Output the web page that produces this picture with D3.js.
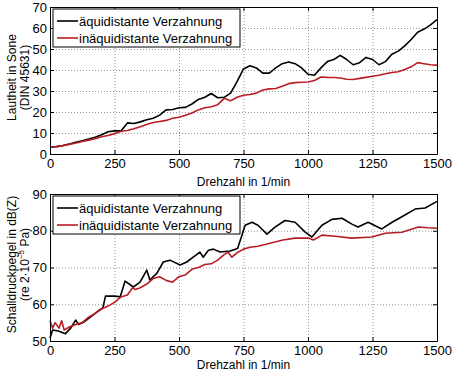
<!DOCTYPE html>
<html>
<head>
<meta charset="utf-8">
<script src="https://cdn.jsdelivr.net/npm/d3@7"></script>
<style>
  body { margin: 0; background: #fff; }
  svg { display: block; font-family: 'Liberation Sans', Arial, sans-serif; }
  .grid line { stroke: #999; stroke-dasharray: 1,2; }
  .grid path { display: none; }
</style>
</head>
<body>
<script>
// ---- data ----
var rpm = d3.range(0, 1501, 25);

var loudEqui = [3.2, 3.5, 4.0, 4.8, 5.6, 6.3, 7.1, 8.0, 9.2, 10.6, 11.0, 11.0, 14.8, 14.5, 15.3, 16.3,
    17.0, 18.5, 21.0, 21.2, 22.0, 22.2, 23.8, 26.0, 27.0, 28.8, 26.8, 27.0, 29.0, 34.5, 40.5,
    42.0, 41.0, 38.5, 38.5, 41.0, 43.0, 43.8, 43.0, 41.0, 38.0, 37.5, 41.0, 44.0, 45.0, 47.0,
    45.0, 42.5, 43.5, 46.0, 45.0, 42.5, 44.0, 47.5, 49.0, 51.5, 54.5, 58.0, 59.5, 61.5, 64.0];
var loudInequi = [3.3, 3.5, 4.0, 4.6, 5.2, 6.0, 6.6, 7.3, 8.2, 8.8, 9.7, 10.8, 11.2, 12.0, 13.0, 14.0,
    15.0, 15.5, 16.0, 17.0, 17.5, 18.5, 19.5, 21.0, 22.0, 22.5, 23.5, 26.5, 25.3, 27.0, 28.0,
    28.3, 29.0, 30.5, 31.0, 31.2, 32.3, 33.5, 34.0, 34.2, 34.3, 35.0, 36.7, 36.5, 36.4, 36.2,
    35.6, 35.5, 36.0, 36.5, 37.0, 37.5, 38.2, 38.8, 39.2, 40.2, 41.5, 43.5, 43.0, 42.5, 42.3];

var splEquiRpm = [0, 10, 32, 60, 80, 100, 110, 130, 160, 195, 205, 215, 252, 272, 291, 323, 349, 375,
    387, 414, 439, 465, 504, 530, 555, 581, 594, 614, 633, 659, 698, 727, 744, 756, 783, 806,
    841, 872, 911, 950, 988, 1015, 1054, 1093, 1132, 1170, 1194, 1233, 1286, 1326, 1364,
    1415, 1454, 1500];
var splEqui = [50.8, 53.0, 52.7, 52.0, 53.5, 55.7, 54.5, 55.1, 56.7, 58.6, 59.0, 62.2, 62.2, 62.0,
    66.3, 64.7, 66.0, 69.3, 66.6, 68.4, 71.5, 72.0, 70.7, 71.5, 72.8, 74.2, 72.8, 74.7, 75.0,
    74.2, 74.5, 75.2, 78.8, 81.5, 82.3, 81.5, 79.1, 81.0, 82.8, 82.3, 79.7, 78.3, 81.5, 83.1,
    83.4, 81.8, 81.0, 82.3, 80.5, 82.3, 83.8, 85.9, 86.2, 88.0];

var splInequiRpm = [0, 10, 20, 35, 45, 55, 75, 100, 125, 150, 175, 200, 225, 250, 275, 300, 320, 330,
    350, 375, 400, 425, 450, 475, 500, 525, 550, 575, 600, 625, 650, 675, 690, 705, 725, 750,
    775, 806, 853, 903, 950, 1002, 1021, 1054, 1106, 1170, 1247, 1300, 1364, 1428, 1465, 1500];
var splInequi = [55.5, 53.5, 55.0, 53.5, 55.5, 53.0, 53.8, 54.5, 55.0, 56.5, 57.5, 58.7, 59.5, 60.5,
    62.0, 62.5, 64.5, 64.0, 64.5, 65.5, 67.0, 67.5, 66.5, 66.0, 67.5, 68.0, 69.5, 70.0, 70.8,
    71.0, 72.0, 73.5, 74.2, 72.8, 74.0, 75.0, 75.5, 75.8, 76.6, 77.5, 78.0, 78.0, 77.5, 78.8,
    78.5, 78.0, 78.3, 79.3, 79.6, 81.0, 80.8, 80.7];

var xTicks = [0, 250, 500, 750, 1000, 1250, 1500];
var loudTicks = [0, 10, 20, 30, 40, 50, 60, 70];
var splTicks = [50, 60, 70, 80, 90];
var seriesNames = ['äquidistante Verzahnung', 'inäquidistante Verzahnung'];
var colors = ['#000000', '#b81c24'];

var svg = d3.select('body').append('svg').attr('width', 455).attr('height', 375);

drawPanel({
    top: 7, bottom: 154, yDomain: [0, 70], yTicks: loudTicks,
    xLabelY: 186, yLabels: ['Lautheit in Sone', '(DIN 45631)'],
    series: [
        {x: rpm, y: loudEqui},
        {x: rpm, y: loudInequi}
    ]
});
drawPanel({
    top: 194, bottom: 341, yDomain: [50, 90], yTicks: splTicks,
    xLabelY: 369, yLabels: ['Schalldruckpegel in dB(Z)', '(re 2\u00B710', '\u22125', ' Pa)'],
    series: [
        {x: splEquiRpm, y: splEqui},
        {x: splInequiRpm, y: splInequi}
    ]
});

function drawPanel(p) {
    var left = 50, right = 437;
    var x = d3.scaleLinear().domain([0, 1500]).range([left, right]);
    var y = d3.scaleLinear().domain(p.yDomain).range([p.bottom, p.top]);
    var g = svg.append('g');

    // grid
    g.append('g').attr('class', 'grid')
        .attr('transform', `translate(0,${p.bottom})`)
        .call(d3.axisBottom(x).tickValues(xTicks.slice(1, -1)).tickSize(-(p.bottom - p.top)).tickFormat(''));
    g.append('g').attr('class', 'grid')
        .attr('transform', `translate(${left},0)`)
        .call(d3.axisLeft(y).tickValues(p.yTicks.slice(1, -1)).tickSize(-(right - left)).tickFormat(''));

    // lines
    var line = d3.line().x((d) => x(d[0])).y((d) => y(d[1]));
    p.series.forEach(function (s, i) {
        g.append('path')
            .datum(s.x.map((v, k) => [v, s.y[k]]))
            .attr('d', line)
            .attr('fill', 'none')
            .attr('stroke', colors[i])
            .attr('stroke-width', 1.6)
            .attr('stroke-linejoin', 'round');
    });

    // axes with inward ticks
    var ax = [
        g.append('g').attr('transform', `translate(0,${p.bottom})`)
            .call(d3.axisBottom(x).tickValues(xTicks).tickFormat(d3.format('d'))
                .tickSizeInner(-4).tickSizeOuter(0).tickPadding(5)),
        g.append('g').attr('transform', `translate(0,${p.top})`)
            .call(d3.axisTop(x).tickValues(xTicks).tickSizeInner(-4).tickSizeOuter(0).tickFormat('')),
        g.append('g').attr('transform', `translate(${left},0)`)
            .call(d3.axisLeft(y).tickValues(p.yTicks).tickFormat(d3.format('d'))
                .tickSizeInner(-4).tickSizeOuter(0).tickPadding(3)),
        g.append('g').attr('transform', `translate(${right},0)`)
            .call(d3.axisRight(y).tickValues(p.yTicks).tickSizeInner(-4).tickSizeOuter(0).tickFormat(''))
    ];
    ax.forEach(function (a) {
        a.selectAll('path').attr('stroke', '#000');
        a.selectAll('line').attr('stroke', '#000');
        a.selectAll('text').attr('font-size', 13).attr('fill', '#000')
            .attr('font-family', "'Liberation Sans', Arial, sans-serif");
    });

    // x label
    g.append('text')
        .attr('x', (left + right) / 2).attr('y', p.xLabelY)
        .attr('text-anchor', 'middle').attr('font-size', 12)
        .text('Drehzahl in 1/min');

    // y labels
    var cy = (p.top + p.bottom) / 2 - 3;
    g.append('text')
        .attr('transform', `translate(16,${cy}) rotate(-90)`)
        .attr('text-anchor', 'middle').attr('font-size', 12)
        .text(p.yLabels[0]);
    var t2 = g.append('text')
        .attr('transform', `translate(29,${cy}) rotate(-90)`)
        .attr('text-anchor', 'middle').attr('font-size', 12);
    if (p.yLabels.length === 2) {
        t2.text(p.yLabels[1]);
    } else {
        t2.append('tspan').text(p.yLabels[1]);
        t2.append('tspan').attr('dy', -5).attr('font-size', 8).text(p.yLabels[2]);
        t2.append('tspan').attr('dy', 5).text(p.yLabels[3]);
    }

    // legend
    var lx = 53, ly = p.top + 2;
    var leg = g.append('g');
    leg.append('rect')
        .attr('x', lx).attr('y', ly).attr('width', 187).attr('height', 38)
        .attr('fill', '#fff').attr('stroke', '#000').attr('stroke-width', 1);
    seriesNames.forEach(function (name, i) {
        var yy = ly + 12 + i * 17;
        leg.append('line')
            .attr('x1', lx + 4).attr('x2', lx + 25).attr('y1', yy).attr('y2', yy)
            .attr('stroke', colors[i]).attr('stroke-width', 1.6);
        leg.append('text')
            .attr('x', lx + 26).attr('y', yy + 5)
            .attr('font-size', 13)
            .text(name);
    });
}
</script>
</body>
</html>
